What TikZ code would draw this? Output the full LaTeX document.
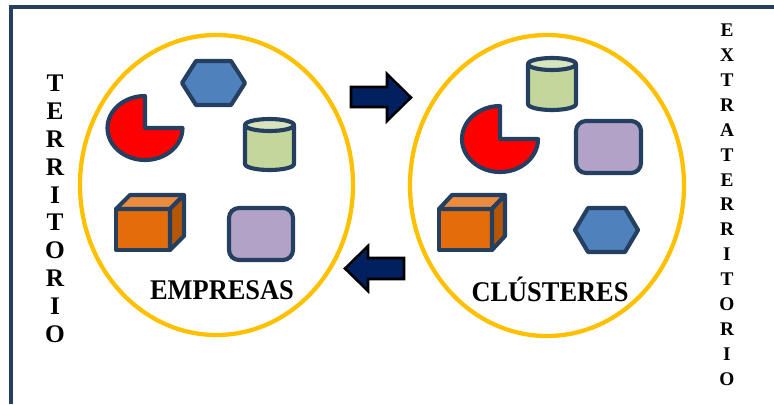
\documentclass[tikz,border=0pt]{standalone}
\usepackage{fontspec}
\setmainfont{Liberation Serif}
\definecolor{navy}{HTML}{243F60}
\definecolor{ring}{HTML}{FFC000}
\definecolor{hexblue}{HTML}{4F81BD}
\definecolor{cylgreen}{HTML}{C3D69B}
\definecolor{cyltop}{HTML}{D7E4BD}
\definecolor{lilac}{HTML}{B3A2C7}
\definecolor{orfront}{HTML}{E46C0A}
\definecolor{ortop}{HTML}{EB8B3E}
\definecolor{orside}{HTML}{B65708}
\definecolor{arrowfill}{HTML}{002060}
\tikzset{
  shp/.style={draw=navy, line width=3.1pt, line join=round},
  ringstyle/.style={draw=ring, line width=3.2pt, ellipse, inner sep=0pt},
  blockarrow/.style={draw=black, fill=arrowfill, line width=1.9pt, line join=miter},
  bigtxt/.style={font=\bfseries\fontsize{19.8}{24}\selectfont, inner sep=0pt, yscale=1.08, transform shape},
  lefttxt/.style={font=\bfseries\fontsize{19}{22}\selectfont, inner sep=0pt, text height=12.7pt, text depth=0pt},
  righttxt/.style={font=\bfseries\fontsize{14.5}{17}\selectfont, inner sep=0pt, text height=9.7pt, text depth=0pt}
}
\usetikzlibrary{shapes.geometric}
\begin{document}
\begin{tikzpicture}[x=0.75pt,y=-0.75pt]
\useasboundingbox (0,0) rectangle (774,404);
% frame (top and left)
\draw[navy, line width=3.4pt, line join=miter] (11,404) -- (11,7) -- (774,7);

% rings
\node[ringstyle, minimum width=273*0.75pt, minimum height=300*0.75pt] (ringL) at (216.5,185) {};
\node[ringstyle, minimum width=274*0.75pt, minimum height=301*0.75pt] (ringR) at (547,185.5) {};

% ---- left group ----
\draw[shp, fill=hexblue] (182,83) -- (196,61) -- (231,61) -- (245,83) -- (231,105) -- (196,105) -- cycle;
\draw[shp, fill=red] (145,128) -- (145,96) arc[start angle=-90, end angle=-360, x radius=37.5, y radius=32] -- cycle;
\draw[shp, fill=cylgreen] (245,125) -- (245,164) arc[start angle=180, end angle=0, x radius=24.5, y radius=6] -- (294,125);
\draw[shp, fill=cyltop] (269.5,125) ellipse[x radius=24.5, y radius=6];
\draw[shp, fill=orfront] (116,209) rectangle (170,250);
\draw[shp, fill=ortop] (116,209) -- (130,195) -- (184,195) -- (170,209) -- cycle;
\draw[shp, fill=orside] (170,209) -- (184,195) -- (184,236) -- (170,250) -- cycle;
\draw[shp, fill=lilac, rounded corners=7.5pt] (229,208) rectangle (293,260);
\node[bigtxt] (empresas) at (222,290) {EMPRESAS};

% ---- right group ----
\draw[shp, fill=cylgreen] (528,64) -- (528,104) arc[start angle=180, end angle=0, x radius=24, y radius=6] -- (576,64);
\draw[shp, fill=cyltop] (552,64) ellipse[x radius=24, y radius=6];
\draw[shp, fill=red] (500,139) -- (500,106) arc[start angle=-90, end angle=-360, x radius=38, y radius=33] -- cycle;
\draw[shp, fill=lilac, rounded corners=7.5pt] (576,121) rectangle (641,173);
\draw[shp, fill=orfront] (439,209) rectangle (492,250);
\draw[shp, fill=ortop] (439,209) -- (452,195) -- (505,195) -- (492,209) -- cycle;
\draw[shp, fill=orside] (492,209) -- (505,195) -- (505,236) -- (492,250) -- cycle;
\draw[shp, fill=hexblue] (575,230) -- (588,208) -- (625,208) -- (638,230) -- (625,252) -- (588,252) -- cycle;
\node[bigtxt] (clusteres) at (550,289) {CLÚSTERES};

% ---- block arrows ----
\draw[blockarrow] (351,87) -- (387,87) -- (387,74) -- (411,97.5) -- (387,121) -- (387,107) -- (351,107) -- cycle;
\draw[blockarrow] (404,258) -- (368,258) -- (368,246) -- (345,268.5) -- (368,291) -- (368,279) -- (404,279) -- cycle;

% ---- vertical words ----
\foreach \ch [count=\i from 0] in {T,E,R,R,I,T,O,R,I,O}
  \node[lefttxt] (terr\i) at (55,83.5+27.8*\i) {\ch};
\foreach \ch [count=\i from 0] in {E,X,T,R,A,T,E,R,R,I,T,O,R,I,O}
  \node[righttxt] (extra\i) at (727,30+24.93*\i) {\ch};
\end{tikzpicture}
\end{document}
